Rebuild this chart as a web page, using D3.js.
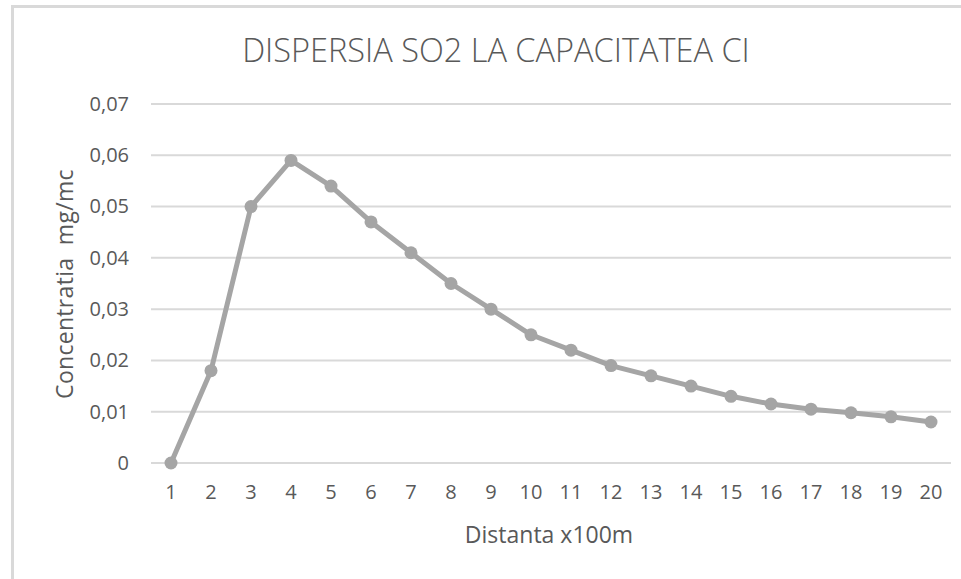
<!DOCTYPE html>
<html>
<head>
<meta charset="utf-8">
<script src="https://cdn.jsdelivr.net/npm/d3@7"></script>
<style>
  html, body { margin: 0; padding: 0; background: #fff; }
  svg { display: block; }
  text { font-family: "Open Sans", "Noto Sans", sans-serif; fill: #595959; white-space: pre; }
</style>
</head>
<body>
<svg id="chart" width="961" height="579"></svg>
<script>
// Distance steps (x100 m)
const distances = [1, 2, 3, 4, 5, 6, 7, 8, 9, 10, 11, 12, 13, 14, 15, 16, 17, 18, 19, 20];
// SO2 concentration (mg/mc)
const concentrations = [0, 0.018, 0.05, 0.059, 0.054, 0.047, 0.041, 0.035, 0.030, 0.025,
                        0.022, 0.019, 0.017, 0.015, 0.013, 0.0115, 0.0105, 0.0098, 0.009, 0.008];
const yTicks = [0, 0.01, 0.02, 0.03, 0.04, 0.05, 0.06, 0.07];

const titleText = "DISPERSIA SO2 LA CAPACITATEA CI";
const xLabel = "Distanta x100m";
const yLabel = "Concentratia  mg/mc";

const svg = d3.select("#chart");
const plot = { left: 151, right: 951, top: 104, bottom: 463 };

// Chart frame
svg.append("rect")
  .attr("x", 12.5).attr("y", 6.5)
  .attr("width", 1000).attr("height", 700)
  .attr("fill", "none").attr("stroke", "#d9d9d9").attr("stroke-width", 3);

const x = d3.scaleBand().domain(distances).range([plot.left, plot.right]);
const y = d3.scaleLinear().domain([0, 0.07]).range([plot.bottom, plot.top]);

// Horizontal gridlines
svg.append("g").selectAll("line").data(yTicks).join("line")
  .attr("x1", plot.left).attr("x2", plot.right)
  .attr("y1", d => y(d)).attr("y2", d => y(d))
  .attr("stroke", "#d9d9d9").attr("stroke-width", 2);

// Y axis labels
const fmt = d => d === 0 ? "0" : d3.format(".2f")(d).replace(".", ",");
const yAxis = d3.axisLeft(y).tickValues(yTicks).tickFormat(fmt).tickSize(0).tickPadding(0);
const yg = svg.append("g").attr("transform", `translate(129,0)`).call(yAxis);
yg.select(".domain").remove();
yg.selectAll("text").attr("font-size", 20).style("fill", "#595959")
  .attr("font-family", "'Open Sans', sans-serif");

// X axis labels
const xAxis = d3.axisBottom(x).tickSize(0).tickPadding(0);
const xg = svg.append("g").attr("transform", `translate(0,${plot.bottom + 22})`).call(xAxis);
xg.select(".domain").remove();
xg.selectAll("text").attr("font-size", 20).style("fill", "#595959")
  .attr("font-family", "'Open Sans', sans-serif");

// Data line
const cx = d => x(d) + x.bandwidth() / 2;
const line = d3.line()
  .x((d, i) => cx(distances[i]))
  .y(d => y(d));
svg.append("path").datum(concentrations)
  .attr("d", line)
  .attr("fill", "none")
  .attr("stroke", "#a5a5a5")
  .attr("stroke-width", 5)
  .attr("stroke-linejoin", "round");

svg.append("g").selectAll("circle").data(concentrations).join("circle")
  .attr("cx", (d, i) => cx(distances[i]))
  .attr("cy", d => y(d))
  .attr("r", 6.5)
  .attr("fill", "#a5a5a5");

// Title
svg.append("text")
  .attr("x", 496).attr("y", 62)
  .attr("text-anchor", "middle")
  .attr("font-size", 32.5)
  .attr("font-weight", 300)
  .text(titleText);

// Axis titles
svg.append("text")
  .attr("x", 549).attr("y", 543)
  .attr("text-anchor", "middle")
  .attr("font-size", 23)
  .text(xLabel);

svg.append("text")
  .attr("transform", "translate(73,284) rotate(-90)")
  .attr("text-anchor", "middle")
  .attr("font-size", 23)
  .attr("letter-spacing", 0.3)
  .text(yLabel);
</script>
</body>
</html>
